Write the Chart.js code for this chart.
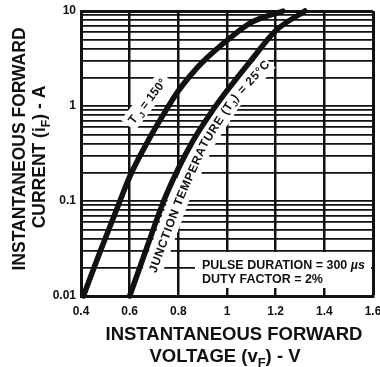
<!DOCTYPE html>
<html>
<head>
<meta charset="utf-8">
<script src="https://cdn.jsdelivr.net/npm/chart.js@4.4.1/dist/chart.umd.min.js"></script>
<style>
  html, body { margin: 0; padding: 0; background: #fff; }
  canvas { display: block; }
</style>
</head>
<body>
<canvas id="forwardChart" width="380" height="367"></canvas>
<script>
// forward voltage (V) against instantaneous forward current (A)
const voltsHot = [0.41, 0.48, 0.56, 0.60, 0.68, 0.76, 0.80, 0.85, 0.90, 1.00, 1.10, 1.23];
const ampsHot = [0.01, 0.03, 0.1, 0.18, 0.45, 1.0, 1.44, 2.1, 2.9, 4.9, 7.6, 10];
const voltsCold = [0.60, 0.67, 0.74, 0.80, 0.86, 0.93, 1.00, 1.10, 1.20, 1.32];
const ampsCold = [0.01, 0.032, 0.1, 0.22, 0.43, 0.82, 1.45, 3.05, 6.2, 10];

const xTicks = [0.4, 0.6, 0.8, 1.0, 1.2, 1.4, 1.6];
const xLabels = ["0.4", "0.6", "0.8", "1", "1.2", "1.4", "1.6"];
const yTicks = [
    0.01, 0.02, 0.03, 0.04, 0.05, 0.06, 0.07, 0.08, 0.09,
    0.1, 0.2, 0.3, 0.4, 0.5, 0.6, 0.7, 0.8, 0.9,
    1, 2, 3, 4, 5, 6, 7, 8, 9, 10,
];
const yLabelled = [0.01, 0.1, 1, 10];
const yLabels = ["0.01", "0.1", "1", "10"];

const FAMILY = "'Liberation Sans', Arial, Helvetica, sans-serif";
const INK = "#111";

function font(size, italic) {
    return (italic ? "italic " : "") + "bold " + size + "px " + FAMILY;
}

// draws pieces of text ({t, sub, it}) centred on (0,0), cap-height centred on y=0
function drawRich(ctx, pieces, size) {
    let total = 0;
    pieces.forEach(p => {
        ctx.font = font(p.sub ? size * 0.7 : size, p.it);
        p.w = ctx.measureText(p.t).width;
        total += p.w;
    });
    let x = -total / 2;
    const base = size * 0.716 / 2;
    ctx.textAlign = "left";
    ctx.textBaseline = "alphabetic";
    pieces.forEach(p => {
        ctx.font = font(p.sub ? size * 0.7 : size, p.it);
        ctx.fillText(p.t, x, base + (p.sub ? size * 0.28 : 0));
        x += p.w;
    });
}

function drawLeft(ctx, pieces, size, x, y) {
    ctx.textAlign = "left";
    ctx.textBaseline = "alphabetic";
    pieces.forEach(p => {
        ctx.font = font(p.sub ? size * 0.7 : size, p.it);
        ctx.fillText(p.t, x, y + size * 0.358 + (p.sub ? size * 0.28 : 0));
        x += ctx.measureText(p.t).width;
    });
}

function pathInfo(pts) {
    const cum = [0];
    for (let i = 1; i < pts.length; i++) {
        cum.push(cum[i - 1] + Math.hypot(pts[i][0] - pts[i - 1][0], pts[i][1] - pts[i - 1][1]));
    }
    return cum;
}

function pointOn(pts, cum, s) {
    s = Math.max(0, Math.min(cum[cum.length - 1], s));
    let i = 1;
    while (i < cum.length - 1 && cum[i] < s) i++;
    const t = (s - cum[i - 1]) / (cum[i] - cum[i - 1]);
    return [pts[i - 1][0] + t * (pts[i][0] - pts[i - 1][0]), pts[i - 1][1] + t * (pts[i][1] - pts[i - 1][1])];
}

// note text that follows the bend of the 25 degC curve
function drawAlongPath(ctx, pieces, pts, size, pad) {
    const cum = pathInfo(pts);
    const len = cum[cum.length - 1];
    const glyphs = [];
    pieces.forEach(p => {
        for (const ch of p.t) glyphs.push({ch, sub: !!p.sub});
    });
    let total = 0;
    glyphs.forEach(g => {
        ctx.font = font(g.sub ? size * 0.7 : size);
        g.w = ctx.measureText(g.ch).width;
        total += g.w;
    });
    const gap = (len - total) / (glyphs.length - 1);
    let s = 0;
    glyphs.forEach(g => {
        const mid = s + g.w / 2;
        const p = pointOn(pts, cum, mid);
        const a = pointOn(pts, cum, mid - 6);
        const b = pointOn(pts, cum, mid + 6);
        g.x = p[0];
        g.y = p[1];
        g.ang = Math.atan2(b[1] - a[1], b[0] - a[0]);
        s += g.w + gap;
    });
    ctx.fillStyle = "#fff";
    glyphs.forEach(g => {
        ctx.save();
        ctx.translate(g.x, g.y);
        ctx.rotate(g.ang);
        ctx.fillRect(-g.w / 2 - gap - 1, -pad, g.w + 2 * gap + 2, pad * 2);
        ctx.restore();
    });
    ctx.fillStyle = INK;
    ctx.textAlign = "center";
    ctx.textBaseline = "alphabetic";
    glyphs.forEach(g => {
        ctx.save();
        ctx.translate(g.x, g.y);
        ctx.rotate(g.ang);
        ctx.font = font(g.sub ? size * 0.7 : size);
        ctx.fillText(g.ch, 0, size * 0.358 + (g.sub ? size * 0.28 : 0));
        ctx.restore();
    });
}

const notes = {
    id: "notes",
    beforeDatasetsDraw(chart) {
        const ctx = chart.ctx;
        ctx.save();

        // test conditions box
        ctx.fillStyle = "#fff";
        ctx.fillRect(195, 252, 176, 36);
        ctx.fillStyle = INK;
        drawLeft(ctx, [{t: "PULSE DURATION = 300 "}, {t: "\u00b5s", it: true}], 12.5, 202, 265);
        drawLeft(ctx, [{t: "DUTY FACTOR = 2%"}], 12.5, 202, 279);

        // TJ = 150 label
        ctx.save();
        ctx.translate(147, 101);
        ctx.rotate(-52 * Math.PI / 180);
        ctx.fillStyle = "#fff";
        ctx.fillRect(-31, -9, 62, 18);
        ctx.fillStyle = INK;
        drawRich(ctx, [{t: "T "}, {t: "J", sub: true}, {t: " = 150\u00b0"}], 12);
        ctx.restore();

        drawAlongPath(ctx,
            [{t: "JUNCTION TEMPERATURE (T"}, {t: "J", sub: true}, {t: ") = 25\u00b0C"}],
            [[152, 272], [179, 199], [204, 143], [231, 101], [267, 62]],
            12, 10);
        ctx.restore();
    },
    afterDraw(chart) {
        const ctx = chart.ctx;
        ctx.save();
        ctx.fillStyle = INK;

        ctx.save();
        ctx.translate(19, 149);
        ctx.rotate(-Math.PI / 2);
        drawRich(ctx, [{t: "INSTANTANEOUS FORWARD"}], 17.5);
        ctx.restore();

        ctx.save();
        ctx.translate(39, 157);
        ctx.rotate(-Math.PI / 2);
        drawRich(ctx, [{t: "CURRENT (i"}, {t: "F", sub: true}, {t: ") - A"}], 17.5);
        ctx.restore();

        ctx.save();
        ctx.translate(234, 333);
        drawRich(ctx, [{t: "INSTANTANEOUS FORWARD"}], 18.5);
        ctx.restore();

        ctx.save();
        ctx.translate(225, 355);
        drawRich(ctx, [{t: "VOLTAGE (v"}, {t: "F", sub: true}, {t: ") - V"}], 18.5);
        ctx.restore();

        ctx.restore();
    },
};

function curve(volts, amps) {
    return {
        data: volts.map((v, i) => ({x: v, y: amps[i]})),
        showLine: true,
        borderColor: INK,
        borderWidth: 5.5,
        borderCapStyle: "round",
        borderJoinStyle: "round",
        pointRadius: 0,
        cubicInterpolationMode: "monotone",
        clip: false,
    };
}

document.addEventListener("DOMContentLoaded", function () {
    const ctx = document.getElementById("forwardChart").getContext("2d");

    new Chart(ctx, {
        type: "scatter",
        data: {
            datasets: [curve(voltsHot, ampsHot), curve(voltsCold, ampsCold)],
        },
        options: {
            responsive: false,
            animation: false,
            layout: {padding: {top: 11, right: 7, left: 0, bottom: 0}},
            plugins: {
                legend: {display: false},
                tooltip: {enabled: false},
            },
            scales: {
                x: {
                    type: "linear",
                    min: 0.4,
                    max: 1.6,
                    afterBuildTicks: scale => {
                        scale.ticks = xTicks.map(v => ({value: v}));
                    },
                    afterFit: scale => {
                        scale.height = 71;
                        scale.paddingLeft = 0;
                        scale.paddingRight = 0;
                    },
                    ticks: {
                        autoSkip: false,
                        maxRotation: 0,
                        padding: 8,
                        color: INK,
                        font: {family: FAMILY, size: 12, weight: "bold"},
                        callback: function (value) {
                            const i = xTicks.findIndex(t => Math.abs(t - value) < 1e-6);
                            return i >= 0 ? xLabels[i] : "";
                        },
                    },
                    grid: {
                        color: INK,
                        drawTicks: false,
                        lineWidth: c => (c.index === xTicks.length - 1 ? 3 : 2.5),
                    },
                    border: {display: true, color: INK, width: 3},
                },
                y: {
                    type: "logarithmic",
                    min: 0.01,
                    max: 10,
                    afterBuildTicks: scale => {
                        scale.ticks = yTicks.map(v => ({value: v}));
                    },
                    afterFit: scale => {
                        scale.width = 81;
                        scale.paddingTop = 0;
                        scale.paddingBottom = 0;
                    },
                    ticks: {
                        autoSkip: false,
                        padding: 5,
                        color: INK,
                        font: {family: FAMILY, size: 12, weight: "bold"},
                        callback: function (value) {
                            const i = yLabelled.findIndex(t => Math.abs(t - value) < t * 1e-6);
                            return i >= 0 ? yLabels[i] : "";
                        },
                    },
                    grid: {
                        color: INK,
                        drawTicks: false,
                        lineWidth: c => (c.index === yTicks.length - 1 ? 3 : 1.8),
                    },
                    border: {display: true, color: INK, width: 3},
                },
            },
        },
        plugins: [notes],
    });
});
</script>
</body>
</html>
